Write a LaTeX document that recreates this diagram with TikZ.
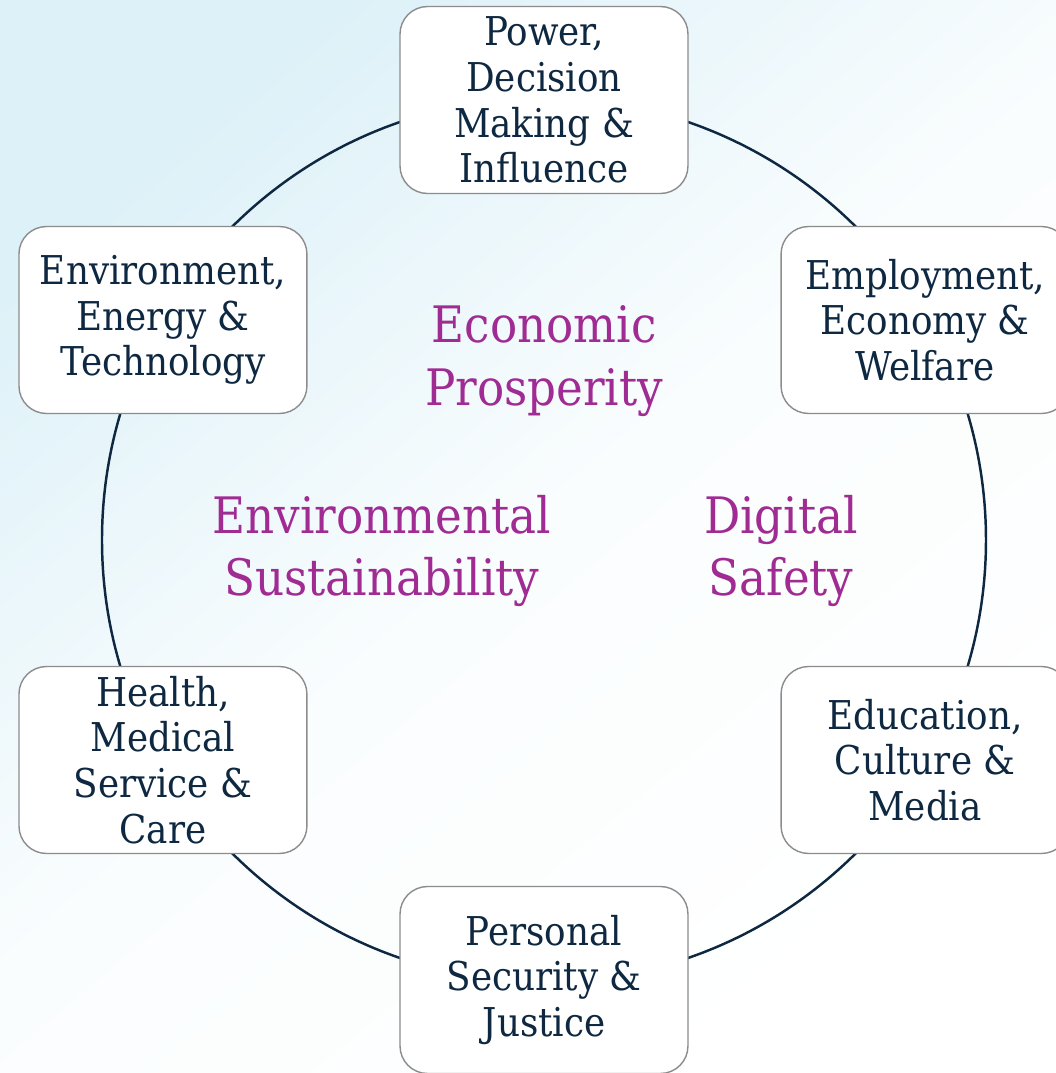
\documentclass[tikz,border=0pt]{standalone}
\usepackage{fontspec}
\setmainfont{DejaVu Serif Condensed}
\usetikzlibrary{positioning,shadings}
\definecolor{navy}{HTML}{0E2841}
\definecolor{plum}{HTML}{A02B93}
\definecolor{boxedge}{HTML}{8C8C8C}
\definecolor{skyback}{HTML}{DDF1F8}

\begin{document}
\begin{tikzpicture}[x=0.02cm, y=0.02cm,
  area/.style={draw=boxedge, line width=0.8pt, fill=white, rounded corners=0.55cm, minimum width=5.76cm, minimum height=3.74cm, align=center, text=navy, font=\fontsize{22.6}{26}\selectfont},
  theme/.style={align=center, text=plum, font=\fontsize{28.6}{35.5}\selectfont},
  ring/.style={draw=navy, line width=1.4pt}
]
% Sfondo
\useasboundingbox (-544,-533) rectangle (512,540);
\shade[top color=skyback, bottom color=white, middle color=white!85!skyback, shading angle=40] (-544,-533) rectangle (512,540);
\coordinate (mid) at (0,0);
\draw[ring] (mid) circle (442);
% Aree
\node[area] (power) at (90:440) {Power,\\ Decision\\ Making \&\\ Influence};
\node[area] (employ) at (30:440) {Employment,\\ Economy \&\\ Welfare};
\node[area] (educ) at (-30:440) {Education,\\ Culture \&\\ Media};
\node[area] (secur) at (-90:440) {Personal\\ Security \&\\ Justice};
\node[area] (health) at (210:440) {Health,\\ Medical\\ Service \&\\ Care};
\node[area] (envir) at (150:440) {Environment,\\ Energy \&\\ Technology};
% Temi
\node[theme] (econ) at (0,179) {Economic\\ Prosperity};
\node[theme] (sust) at (-162,-11) {Environmental\\ Sustainability};
\node[theme] (digi) at (237,-11) {Digital\\ Safety};
\end{tikzpicture}
\end{document}
